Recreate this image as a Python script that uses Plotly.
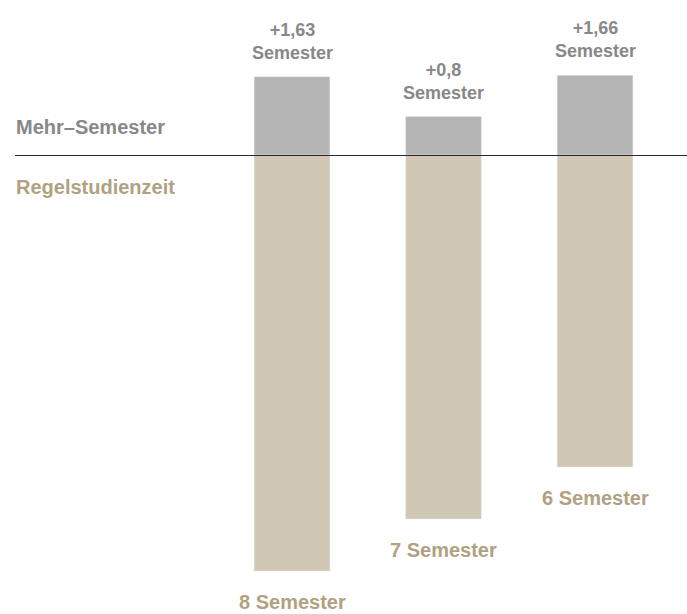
import plotly.graph_objects as go

# ---- data ----
categories = ["Studiengang A", "Studiengang B", "Studiengang C"]
mehr_semester = [1.63, 0.8, 1.66]
regelstudienzeit = [8, 7, 6]
mehr_labels = ["+1,63<br>Semester", "+0,8<br>Semester", "+1,66<br>Semester"]
regel_labels = ["8 Semester", "7 Semester", "6 Semester"]

W, H = 687, 614
base_px = 155
gray_bar = "#b4b4b4"
beige_bar = "#d0c6b4"
gray_txt = "#888888"
beige_txt = "#b0a183"
font = "Liberation Sans, Arial, sans-serif"

split = 1 - base_px / H

fig = go.Figure()
fig.add_trace(go.Bar(x=categories, y=mehr_semester, marker_color=gray_bar,
                     width=0.5, xaxis="x", yaxis="y", hoverinfo="skip"))
fig.add_trace(go.Bar(x=categories, y=regelstudienzeit, marker_color=beige_bar,
                     width=0.5, xaxis="x", yaxis="y2", hoverinfo="skip"))

# labels above / below bars
for c, v, t in zip(categories, mehr_semester, mehr_labels):
    fig.add_annotation(x=c, y=v, xref="x", yref="y", text=t, showarrow=False,
                       yanchor="bottom", yshift=12,
                       font=dict(family=font, size=18, color=gray_txt, weight="bold"))
for c, v, t in zip(categories, regelstudienzeit, regel_labels):
    fig.add_annotation(x=c, y=v, xref="x", yref="y2", text=t, showarrow=False,
                       yanchor="middle", yshift=-31,
                       font=dict(family=font, size=20, color=beige_txt, weight="bold"))

# side labels
fig.add_annotation(x=14 / W, y=1 - 127 / H, xref="paper", yref="paper",
                   text="Mehr–Semester", showarrow=False, xanchor="left", yanchor="middle",
                   font=dict(family=font, size=20, color=gray_txt, weight="bold"))
fig.add_annotation(x=14 / W, y=1 - 187 / H, xref="paper", yref="paper",
                   text="Regelstudienzeit", showarrow=False, xanchor="left", yanchor="middle",
                   font=dict(family=font, size=20, color=beige_txt, weight="bold"))

# baseline (placed on a pixel centre for a crisp 1px line)
line_y = 1 - (base_px + 0.5) / H
fig.add_shape(type="line", xref="paper", yref="paper", x0=15 / W, x1=1,
              y0=line_y, y1=line_y, line=dict(color="#2a2a2a", width=1), layer="above")

step = 151.5
x0 = -292 / step
fig.update_layout(
    width=W, height=H,
    margin=dict(l=0, r=0, t=0, b=0),
    paper_bgcolor="white", plot_bgcolor="white",
    showlegend=False, barmode="overlay",
    xaxis=dict(visible=False, range=[x0, x0 + W / step], anchor="y2"),
    yaxis=dict(visible=False, domain=[split, 1], range=[0, base_px / 48]),
    yaxis2=dict(visible=False, domain=[0, split], range=[(H - base_px) / 52, 0]),
)

fig.write_html("out.html", config={"displayModeBar": False, "staticPlot": True},
               post_script="document.body.style.margin='0';document.body.style.overflow='hidden';")
